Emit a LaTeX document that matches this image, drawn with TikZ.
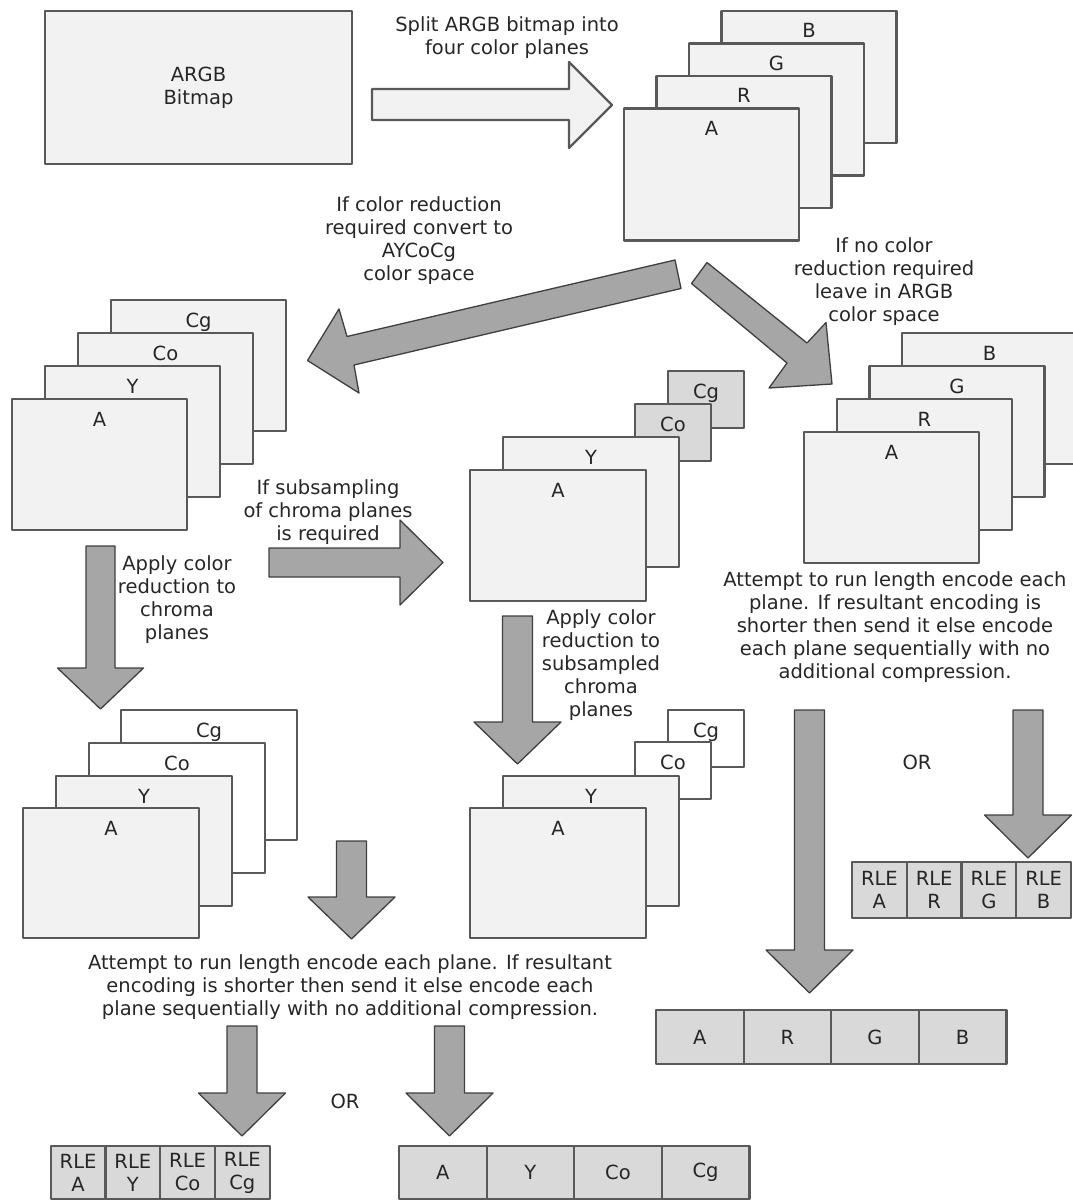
\documentclass[tikz,border=0pt]{standalone}
\usepackage{fontspec}
\setmainfont{DejaVu Sans}
\usepackage{tikz}
\usetikzlibrary{positioning}
\usepackage{xcolor}
\definecolor{planefill}{HTML}{F2F2F2}
\definecolor{planeline}{HTML}{595959}
\definecolor{cellfill}{HTML}{D9D9D9}
\definecolor{arrowfill}{HTML}{A6A6A6}
\definecolor{arrowline}{HTML}{3F3F3F}
\definecolor{inktext}{HTML}{262626}

\begin{document}
\begin{tikzpicture}[x=1pt,y=-1pt,line join=round,font=\fontsize{19.5}{23}\selectfont,text=inktext,
  plane/.style={draw=planeline,fill=planefill,line width=2.2pt,inner sep=0pt,outer sep=0pt,minimum width=175pt,minimum height=131pt,anchor=north west},
  tab/.style={plane,fill=cellfill,minimum width=76pt,minimum height=57pt},
  planelabel/.style={anchor=base,yshift=-27pt,inner sep=0pt},
  note/.style={align=center,inner sep=0pt},
  cell/.style={draw=planeline,fill=cellfill,line width=2.2pt,inner sep=0pt,outer sep=0pt,align=center},
  rlecell/.style={cell,minimum width=54.75pt,minimum height=55pt},
  seqcell/.style={cell,minimum width=87.6pt,minimum height=54pt},
  bigarrow/.style={draw=arrowline,fill=arrowfill,line width=1.3pt},
  hollowarrow/.style={draw=planeline,fill=planefill,line width=2.2pt}]
\useasboundingbox (0,0) rectangle (1072,1201);

% source bitmap and split
\node[draw=planeline,fill=planefill,line width=2.2pt,minimum width=307pt,minimum height=153pt,align=center] (bitmap) at (198.5,87.5) {ARGB\\Bitmap};
\node[note] (split) at (507,37.5) {Split ARGB bitmap into\\four color planes};
\draw[hollowarrow] (372,89) -- (569,89) -- (569,62) -- (612,105) -- (569,148) -- (569,120) -- (372,120) -- cycle;

\node[plane,minimum height=132pt,label={[planelabel]north:B}] (splitB) at (721.5,11) {};
\node[plane,minimum height=132pt,label={[planelabel]north:G}] (splitG) at (689,43.5) {};
\node[plane,minimum height=132pt,label={[planelabel]north:R}] (splitR) at (656.5,76) {};
\node[plane,minimum height=132pt,label={[planelabel]north:A}] (splitA) at (624,108.5) {};

% two ways out of the split
\node[note] (toycocg) at (419,241) {If color reduction\\required convert to\\AYCoCg\\color space};
\node[note] (keepargb) at (884,282) {If no color\\reduction required\\leave in ARGB\\color space};
\draw[bigarrow] (675,260) -- (347,336.5) -- (339,309) -- (307.5,360.5) -- (359,393) -- (354,365) -- (681,288.5) -- cycle;
\draw[bigarrow] (707,262.5) -- (807,343) -- (826,322.5) -- (832,384) -- (769,388) -- (787,363) -- (691.5,283.5) -- cycle;

% AYCoCg planes
\node[plane,label={[planelabel]north:Cg}] (ycoCg) at (111,300) {};
\node[plane,label={[planelabel]north:Co}] (ycoCo) at (78,333) {};
\node[plane,label={[planelabel]north:Y}] (ycoY) at (45,366) {};
\node[plane,label={[planelabel]north:A}] (ycoA) at (12,399) {};

\node[note] (subsmp) at (328,512) {If subsampling\\of chroma planes\\is required};
\draw[bigarrow] (269,548) -- (400,548) -- (400,520) -- (443,562.5) -- (400,605) -- (400,577) -- (269,577) -- cycle;

% subsampled planes
\node[tab,label={[planelabel]north:Cg}] (subCg) at (668,371) {};
\node[tab,label={[planelabel]north:Co}] (subCo) at (635,404) {};
\node[plane,minimum width=176pt,minimum height=130pt,label={[planelabel]north:Y}] (subY) at (503,437) {};
\node[plane,minimum width=176pt,label={[planelabel]north:A}] (subA) at (470,470) {};

% ARGB planes kept
\node[plane,label={[planelabel]north:B}] (keepB) at (902,333) {};
\node[plane,label={[planelabel]north:G}] (keepG) at (869.5,366) {};
\node[plane,label={[planelabel]north:R}] (keepR) at (837,399) {};
\node[plane,label={[planelabel]north:A}] (keepA) at (804,432) {};

% color reduction
\node[note] (reduce) at (177,600) {Apply color\\reduction to\\chroma\\planes};
\draw[bigarrow] (86,546) -- (115,546) -- (115,668) -- (143.5,668) -- (100.5,709) -- (57.5,668) -- (86,668) -- cycle;
\node[note] (reducesub) at (601,665) {Apply color\\reduction to\\subsampled\\chroma\\planes};
\draw[bigarrow] (502.5,616) -- (532.5,616) -- (532.5,722) -- (561,722) -- (517.5,764) -- (474,722) -- (502.5,722) -- cycle;

\node[plane,fill=white,minimum width=176pt,minimum height=130pt,label={[planelabel]north:Cg}] (redCg) at (121,710) {};
\node[plane,fill=white,minimum width=176pt,minimum height=130pt,label={[planelabel]north:Co}] (redCo) at (89,743) {};
\node[plane,minimum width=176pt,minimum height=130pt,label={[planelabel]north:Y}] (redY) at (56,776) {};
\node[plane,minimum width=176pt,minimum height=130pt,label={[planelabel]north:A}] (redA) at (23,808) {};

\node[tab,fill=white,label={[planelabel]north:Cg}] (rsubCg) at (668,710) {};
\node[tab,fill=white,label={[planelabel]north:Co}] (rsubCo) at (635,742) {};
\node[plane,minimum width=176pt,minimum height=130pt,label={[planelabel]north:Y}] (rsubY) at (503,776) {};
\node[plane,minimum width=176pt,minimum height=130pt,label={[planelabel]north:A}] (rsubA) at (470,808) {};

% run length encoding, ARGB
\node[note] (rleright) at (895,627) {Attempt to run length encode each\\plane. If resultant encoding is\\shorter then send it else encode\\each plane sequentially with no\\additional compression.};
\draw[bigarrow] (794.5,710) -- (824.5,710) -- (824.5,950) -- (853,950) -- (809.5,993) -- (766,950) -- (794.5,950) -- cycle;
\draw[bigarrow] (1013,710) -- (1043,710) -- (1043,815) -- (1071.5,815) -- (1028,858) -- (984.5,815) -- (1013,815) -- cycle;
\node (orright) at (917,762) {OR};

\node[rlecell,minimum height=56pt,anchor=north west] (rleA) at (852,862) {RLE\\A};
\node[rlecell,minimum height=56pt,right=0pt of rleA] (rleR) {RLE\\R};
\node[rlecell,minimum height=56pt,right=0pt of rleR] (rleG) {RLE\\G};
\node[rlecell,minimum height=56pt,right=0pt of rleG] (rleB) {RLE\\B};

\node[seqcell,anchor=north west] (seqA) at (656,1010) {A};
\node[seqcell,right=0pt of seqA] (seqR) {R};
\node[seqcell,right=0pt of seqR] (seqG) {G};
\node[seqcell,right=0pt of seqG] (seqB) {B};

% run length encoding, AYCoCg
\draw[bigarrow] (336.5,841) -- (366.5,841) -- (366.5,897) -- (395,897) -- (351.5,939) -- (308,897) -- (336.5,897) -- cycle;
\node[note] (rleleft) at (350,987) {Attempt to run length encode each plane. If resultant\\encoding is shorter then send it else encode each\\plane sequentially with no additional compression.};
\draw[bigarrow] (227,1026) -- (257,1026) -- (257,1093) -- (285.5,1093) -- (242,1136) -- (198.5,1093) -- (227,1093) -- cycle;
\draw[bigarrow] (434.5,1026) -- (464.5,1026) -- (464.5,1093) -- (493,1093) -- (449.5,1136) -- (406,1093) -- (434.5,1093) -- cycle;
\node (orleft) at (345,1101) {OR};

\node[rlecell,minimum height=53pt,anchor=north west] (rleyA) at (50.7,1146) {RLE\\A};
\node[rlecell,minimum height=53pt,right=0pt of rleyA] (rleyY) {RLE\\Y};
\node[rlecell,minimum height=53pt,right=0pt of rleyY] (rleyCo) {RLE\\Co};
\node[rlecell,minimum height=53pt,right=0pt of rleyCo] (rleyCg) {RLE\\Cg};

\node[seqcell,minimum height=53pt,anchor=north west] (seqyA) at (399,1146) {A};
\node[seqcell,minimum height=53pt,right=0pt of seqyA] (seqyY) {Y};
\node[seqcell,minimum height=53pt,right=0pt of seqyY] (seqyCo) {Co};
\node[seqcell,minimum height=53pt,right=0pt of seqyCo] (seqyCg) {Cg};
\end{tikzpicture}
\end{document}
